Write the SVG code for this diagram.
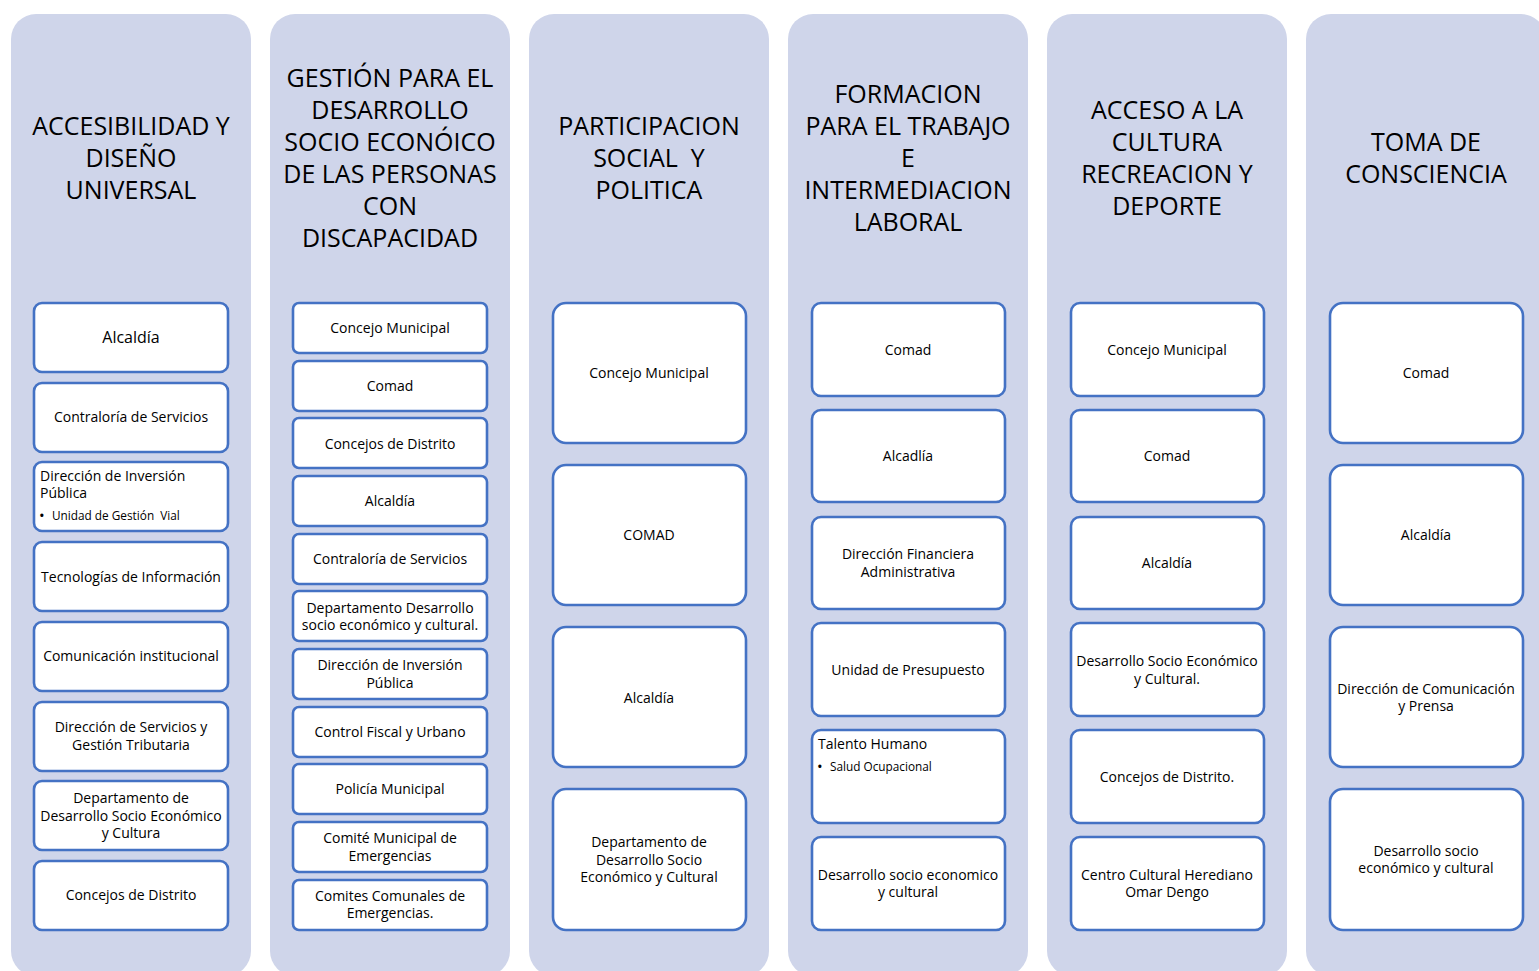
<svg xmlns="http://www.w3.org/2000/svg" width="1539" height="971" viewBox="0 0 1539 971">
<style>
.col{fill:#CFD5EA;stroke:none}
.box{fill:#FFFFFF;stroke:#4472C4;stroke-width:2.6}
.t{font-family:"Open Sans","Liberation Sans",sans-serif;fill:#000}
.h{font-size:25px;text-anchor:middle}
.n{font-size:14px;text-anchor:middle}
.nl{font-size:14px}
.b{font-size:11.8px}
.dot{font-size:15px}
.big{font-size:16px;text-anchor:middle}
</style>
<rect width="1539" height="971" fill="#FFFFFF"/>
<g id="connectors"></g>

<g id="col1">
<rect class="col" x="11" y="14" width="240" height="962" rx="25"/>
<text class="t h"><tspan x="131" y="135">ACCESIBILIDAD Y</tspan><tspan x="131" y="167">DISEÑO</tspan><tspan x="131" y="199">UNIVERSAL</tspan></text>
</g>
<g id="col2">
<rect class="col" x="270" y="14" width="240" height="962" rx="25"/>
<text class="t h"><tspan x="390" y="87">GESTIÓN PARA EL</tspan><tspan x="390" y="119">DESARROLLO</tspan><tspan x="390" y="151">SOCIO ECONÓICO</tspan><tspan x="390" y="183">DE LAS PERSONAS</tspan><tspan x="390" y="215">CON</tspan><tspan x="390" y="247">DISCAPACIDAD</tspan></text>
</g>
<g id="col3">
<rect class="col" x="529" y="14" width="240" height="962" rx="25"/>
<text class="t h" xml:space="preserve"><tspan x="649" y="135">PARTICIPACION</tspan><tspan x="649" y="167">SOCIAL  Y</tspan><tspan x="649" y="199">POLITICA</tspan></text>
</g>
<g id="col4">
<rect class="col" x="788" y="14" width="240" height="962" rx="25"/>
<text class="t h"><tspan x="908" y="103">FORMACION</tspan><tspan x="908" y="135">PARA EL TRABAJO</tspan><tspan x="908" y="167">E</tspan><tspan x="908" y="199">INTERMEDIACION</tspan><tspan x="908" y="231">LABORAL</tspan></text>
</g>
<g id="col5">
<rect class="col" x="1047" y="14" width="240" height="962" rx="25"/>
<text class="t h"><tspan x="1167" y="119">ACCESO A LA</tspan><tspan x="1167" y="151">CULTURA</tspan><tspan x="1167" y="183">RECREACION Y</tspan><tspan x="1167" y="215">DEPORTE</tspan></text>
</g>
<g id="col6">
<rect class="col" x="1306" y="14" width="240" height="962" rx="25"/>
<text class="t h"><tspan x="1426" y="151">TOMA DE</tspan><tspan x="1426" y="183">CONSCIENCIA</tspan></text>
</g>

<!-- Column 1 nodes -->
<g id="c1n1"><rect class="box" x="34" y="303" width="194" height="69" rx="8"/><text class="t big" x="131" y="343">Alcaldía</text></g>
<g id="c1n2"><rect class="box" x="34" y="383" width="194" height="69" rx="8"/><text class="t n" x="131" y="422">Contraloría de Servicios</text></g>
<g id="c1n3"><rect class="box" x="34" y="462" width="194" height="69" rx="8"/><text class="t nl"><tspan x="40" y="481">Dirección de Inversión</tspan><tspan x="40" y="498">Pública</tspan></text><text class="t dot" x="39" y="521">•</text><text class="t b" x="52" y="520" xml:space="preserve">Unidad de Gestión  Vial</text></g>
<g id="c1n4"><rect class="box" x="34" y="542" width="194" height="69" rx="8"/><text class="t n" x="131" y="582">Tecnologías de Información</text></g>
<g id="c1n5"><rect class="box" x="34" y="622" width="194" height="69" rx="8"/><text class="t n" x="131" y="661">Comunicación institucional</text></g>
<g id="c1n6"><rect class="box" x="34" y="702" width="194" height="69" rx="8"/><text class="t n"><tspan x="131" y="732">Dirección de Servicios y</tspan><tspan x="131" y="750">Gestión Tributaria</tspan></text></g>
<g id="c1n7"><rect class="box" x="34" y="781" width="194" height="69" rx="8"/><text class="t n"><tspan x="131" y="803">Departamento de</tspan><tspan x="131" y="821">Desarrollo Socio Económico</tspan><tspan x="131" y="838">y Cultura</tspan></text></g>
<g id="c1n8"><rect class="box" x="34" y="861" width="194" height="69" rx="8"/><text class="t n" x="131" y="900">Concejos de Distrito</text></g>

<!-- Column 2 nodes -->
<g id="c2n1"><rect class="box" x="293" y="303" width="194" height="50" rx="6"/><text class="t n" x="390" y="333">Concejo Municipal</text></g>
<g id="c2n2"><rect class="box" x="293" y="361" width="194" height="50" rx="6"/><text class="t n" x="390" y="391">Comad</text></g>
<g id="c2n3"><rect class="box" x="293" y="418" width="194" height="50" rx="6"/><text class="t n" x="390" y="449">Concejos de Distrito</text></g>
<g id="c2n4"><rect class="box" x="293" y="476" width="194" height="50" rx="6"/><text class="t n" x="390" y="506">Alcaldía</text></g>
<g id="c2n5"><rect class="box" x="293" y="534" width="194" height="50" rx="6"/><text class="t n" x="390" y="564">Contraloría de Servicios</text></g>
<g id="c2n6"><rect class="box" x="293" y="591" width="194" height="50" rx="6"/><text class="t n"><tspan x="390" y="613">Departamento Desarrollo</tspan><tspan x="390" y="630">socio económico y cultural.</tspan></text></g>
<g id="c2n7"><rect class="box" x="293" y="649" width="194" height="50" rx="6"/><text class="t n"><tspan x="390" y="670">Dirección de Inversión</tspan><tspan x="390" y="688">Pública</tspan></text></g>
<g id="c2n8"><rect class="box" x="293" y="707" width="194" height="50" rx="6"/><text class="t n" x="390" y="737">Control Fiscal y Urbano</text></g>
<g id="c2n9"><rect class="box" x="293" y="764" width="194" height="50" rx="6"/><text class="t n" x="390" y="794">Policía Municipal</text></g>
<g id="c2n10"><rect class="box" x="293" y="822" width="194" height="50" rx="6"/><text class="t n"><tspan x="390" y="843">Comité Municipal de</tspan><tspan x="390" y="861">Emergencias</tspan></text></g>
<g id="c2n11"><rect class="box" x="293" y="880" width="194" height="50" rx="6"/><text class="t n"><tspan x="390" y="901">Comites Comunales de</tspan><tspan x="390" y="918">Emergencias.</tspan></text></g>

<!-- Column 3 nodes -->
<g id="c3n1"><rect class="box" x="553" y="303" width="193" height="140" rx="13"/><text class="t n" x="649" y="378">Concejo Municipal</text></g>
<g id="c3n2"><rect class="box" x="553" y="465" width="193" height="140" rx="13"/><text class="t n" x="649" y="540">COMAD</text></g>
<g id="c3n3"><rect class="box" x="553" y="627" width="193" height="140" rx="13"/><text class="t n" x="649" y="703">Alcaldía</text></g>
<g id="c3n4"><rect class="box" x="553" y="789" width="193" height="141" rx="13"/><text class="t n"><tspan x="649" y="847">Departamento de</tspan><tspan x="649" y="865">Desarrollo Socio</tspan><tspan x="649" y="882">Económico y Cultural</tspan></text></g>

<!-- Column 4 nodes -->
<g id="c4n1"><rect class="box" x="812" y="303" width="193" height="93" rx="9"/><text class="t n" x="908" y="355">Comad</text></g>
<g id="c4n2"><rect class="box" x="812" y="410" width="193" height="92" rx="9"/><text class="t n" x="908" y="461">Alcadlía</text></g>
<g id="c4n3"><rect class="box" x="812" y="517" width="193" height="92" rx="9"/><text class="t n"><tspan x="908" y="559">Dirección Financiera</tspan><tspan x="908" y="577">Administrativa</tspan></text></g>
<g id="c4n4"><rect class="box" x="812" y="623" width="193" height="93" rx="9"/><text class="t n" x="908" y="675">Unidad de Presupuesto</text></g>
<g id="c4n5"><rect class="box" x="812" y="730" width="193" height="93" rx="9"/><text class="t nl" x="818" y="749">Talento Humano</text><text class="t dot" x="817" y="772">•</text><text class="t b" x="830" y="771">Salud Ocupacional</text></g>
<g id="c4n6"><rect class="box" x="812" y="837" width="193" height="93" rx="9"/><text class="t n"><tspan x="908" y="880">Desarrollo socio economico</tspan><tspan x="908" y="897">y cultural</tspan></text></g>

<!-- Column 5 nodes -->
<g id="c5n1"><rect class="box" x="1071" y="303" width="193" height="93" rx="9"/><text class="t n" x="1167" y="355">Concejo Municipal</text></g>
<g id="c5n2"><rect class="box" x="1071" y="410" width="193" height="92" rx="9"/><text class="t n" x="1167" y="461">Comad</text></g>
<g id="c5n3"><rect class="box" x="1071" y="517" width="193" height="92" rx="9"/><text class="t n" x="1167" y="568">Alcaldía</text></g>
<g id="c5n4"><rect class="box" x="1071" y="623" width="193" height="93" rx="9"/><text class="t n"><tspan x="1167" y="666">Desarrollo Socio Económico</tspan><tspan x="1167" y="684">y Cultural.</tspan></text></g>
<g id="c5n5"><rect class="box" x="1071" y="730" width="193" height="93" rx="9"/><text class="t n" x="1167" y="782">Concejos de Distrito.</text></g>
<g id="c5n6"><rect class="box" x="1071" y="837" width="193" height="93" rx="9"/><text class="t n"><tspan x="1167" y="880">Centro Cultural Herediano</tspan><tspan x="1167" y="897">Omar Dengo</tspan></text></g>

<!-- Column 6 nodes -->
<g id="c6n1"><rect class="box" x="1330" y="303" width="193" height="140" rx="13"/><text class="t n" x="1426" y="378">Comad</text></g>
<g id="c6n2"><rect class="box" x="1330" y="465" width="193" height="140" rx="13"/><text class="t n" x="1426" y="540">Alcaldía</text></g>
<g id="c6n3"><rect class="box" x="1330" y="627" width="193" height="140" rx="13"/><text class="t n"><tspan x="1426" y="694">Dirección de Comunicación</tspan><tspan x="1426" y="711">y Prensa</tspan></text></g>
<g id="c6n4"><rect class="box" x="1330" y="789" width="193" height="141" rx="13"/><text class="t n"><tspan x="1426" y="856">Desarrollo socio</tspan><tspan x="1426" y="873">económico y cultural</tspan></text></g>
</svg>
